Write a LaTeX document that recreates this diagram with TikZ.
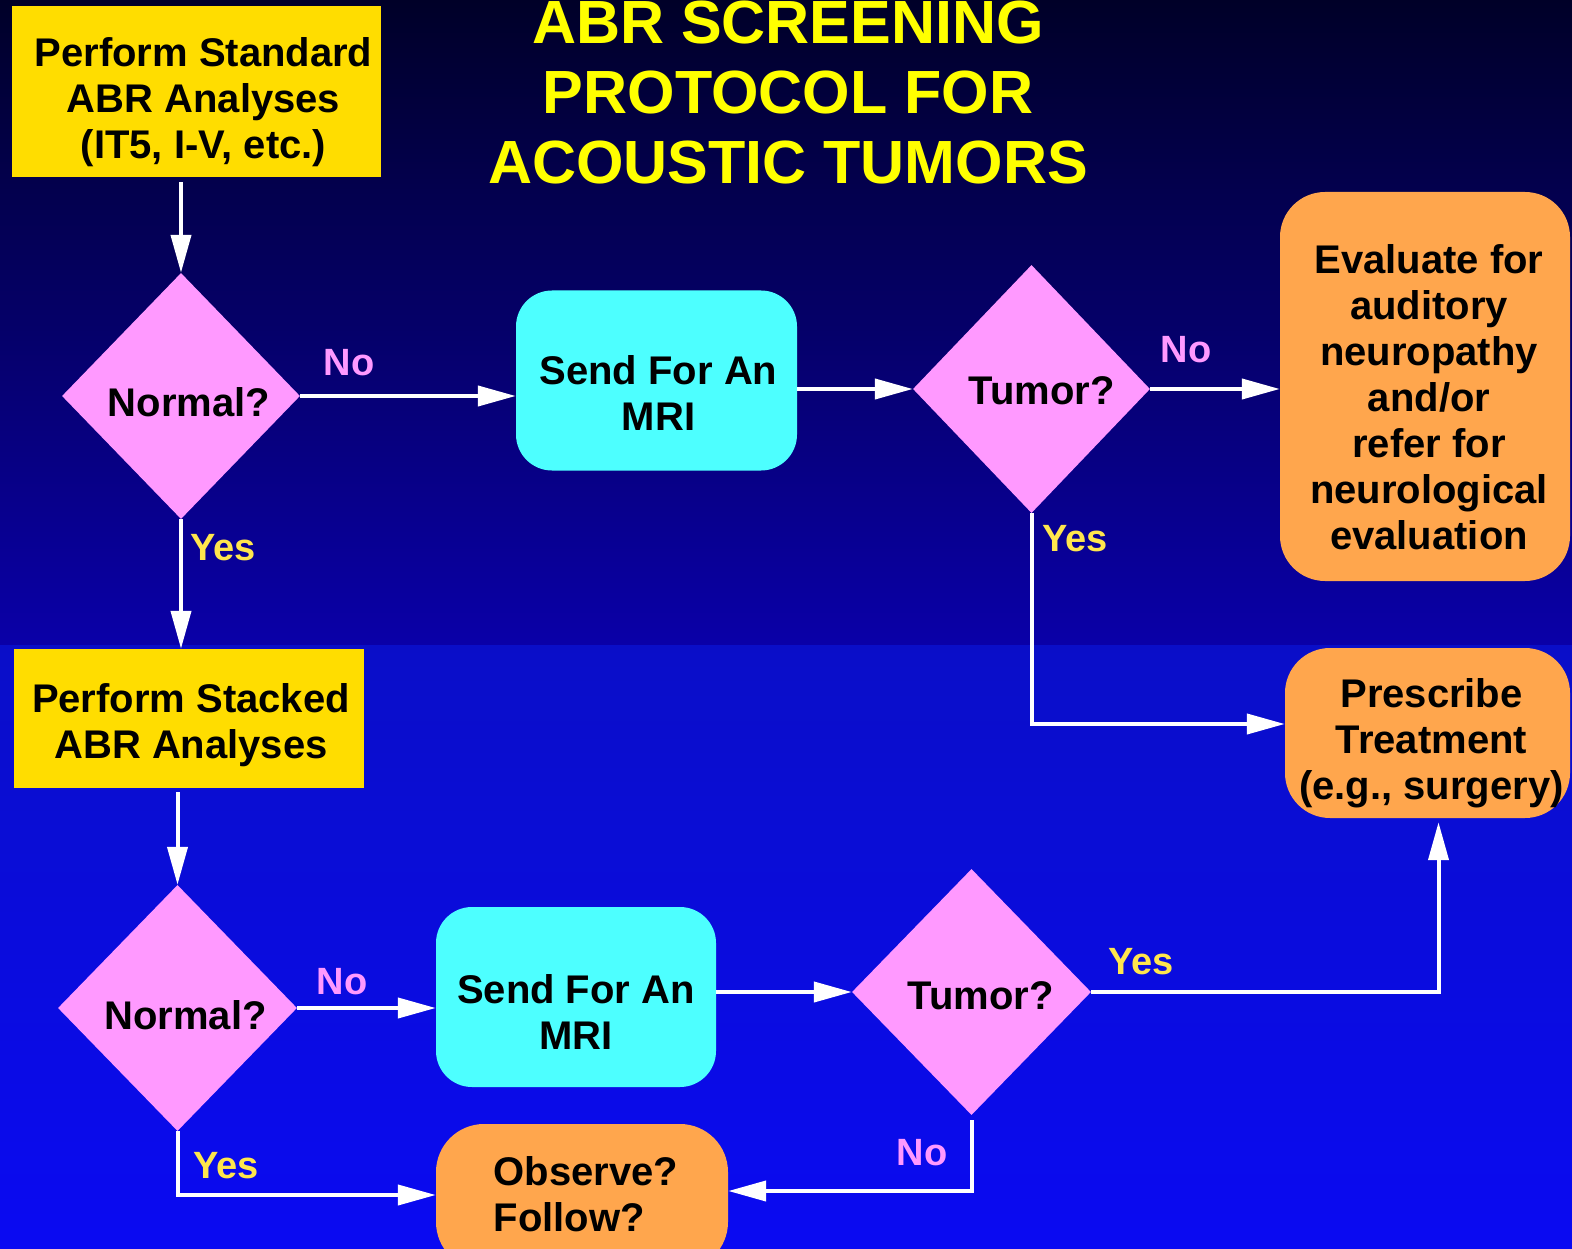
\documentclass[tikz,border=0pt]{standalone}
\usepackage{fontspec}
\setmainfont{Liberation Sans}
\usetikzlibrary{shapes.geometric,arrows.meta}
\definecolor{boxyellow}{HTML}{FFDD00}
\definecolor{dpink}{HTML}{FF99FF}
\definecolor{bcyan}{HTML}{4DFFFF}
\definecolor{borange}{HTML}{FFA64D}
\definecolor{ttlyellow}{HTML}{FFFF00}
\definecolor{yeslbl}{HTML}{FFE64D}
\definecolor{bgA}{RGB}{0,0,40}
\definecolor{bgB}{RGB}{10,0,168}
\definecolor{bgC}{RGB}{10,14,200}
\definecolor{bgD}{RGB}{10,10,242}
\begin{document}
\begin{tikzpicture}[x=1pt,y=-1pt,
 txt/.style={font=\fontsize{40}{46}\selectfont\bfseries, text=black, align=center, inner sep=0pt},
 shp/.style={inner sep=0pt, draw=none},
 ybox/.style={shp, fill=boxyellow},
 dia/.style={shp, diamond, fill=dpink, minimum width=238pt, minimum height=246pt},
 cbox/.style={shp, fill=bcyan, rounded corners=36pt, minimum width=281pt, minimum height=180pt},
 obox/.style={shp, fill=borange, rounded corners=45pt},
 arr/.style={draw=white, line width=4pt, -{Triangle[length=38pt,width=20pt]}},
 nolbl/.style={font=\fontsize{38}{44}\selectfont\bfseries, text=dpink, inner sep=0pt},
 yeslab/.style={font=\fontsize{38}{44}\selectfont\bfseries, text=yeslbl, inner sep=0pt},
]
\useasboundingbox (0,0) rectangle (1572,1249);
\shade[top color=bgA, bottom color=bgB] (0,0) rectangle (1572,645);
\shade[top color=bgC, bottom color=bgD] (0,645) rectangle (1572,1249);

\node[font=\fontsize{61}{70}\selectfont\bfseries, text=ttlyellow, align=center, inner sep=0pt] (title) at (788,93) {ABR SCREENING\\PROTOCOL FOR\\ACOUSTIC TUMORS};

% shapes
\node[ybox, minimum width=369pt, minimum height=171pt] (std) at (196.5,91.5) {};
\node[dia] (n1) at (181,396) {};
\node[cbox] (mri1) at (656.5,380.5) {};
\node[dia, minimum width=237pt, minimum height=248pt] (t1) at (1031.5,389) {};
\node[obox, minimum width=290pt, minimum height=389pt] (eval) at (1425,386.5) {};
\node[obox, minimum width=285pt, minimum height=170pt] (presc) at (1427.5,733) {};
\node[ybox, minimum width=350pt, minimum height=139pt] (stk) at (189,718.5) {};
\node[dia, minimum width=239pt] (n2) at (177.5,1008) {};
\node[cbox, minimum width=280pt] (mri2) at (576,997) {};
\node[dia, minimum width=239pt] (t2) at (971.5,992) {};
\node[obox, rounded corners=48pt, minimum width=292pt, minimum height=146pt] (obs) at (582,1197) {};

% texts
\node[txt] (std-t) at ([xshift=7pt,yshift=-11pt]std.center) {Perform Standard\\ABR Analyses\\(IT5, I-V, etc.)};
\node[txt] (n1-t) at ([xshift=8pt,yshift=-6pt]n1.center) {Normal?};
\node[txt] (mri1-t) at ([xshift=2pt,yshift=-13pt]mri1.center) {Send For An\\MRI};
\node[txt] (t1-t) at ([xshift=10pt,yshift=-2pt]t1.center) {Tumor?};
\node[txt] (eval-t) at ([xshift=4pt,yshift=-11pt]eval.center) {Evaluate for\\auditory\\neuropathy\\and/or\\refer for\\neurological\\evaluation};
\node[txt] (presc-t) at ([xshift=4pt,yshift=-10pt]presc.center) {Prescribe\\Treatment\\(e.g., surgery)};
\node[txt] (stk-t) at ([xshift=2pt,yshift=-7pt]stk.center) {Perform Stacked\\ABR Analyses};
\node[txt] (n2-t) at ([xshift=8pt,yshift=-7pt]n2.center) {Normal?};
\node[txt] (mri2-t) at ([xshift=0pt,yshift=-15pt]mri2.center) {Send For An\\MRI};
\node[txt] (t2-t) at ([xshift=9pt,yshift=-4pt]t2.center) {Tumor?};
\node[txt, align=left] (obs-t) at ([xshift=4pt,yshift=3pt]obs.center) {Observe?\\Follow?};

% labels
\node[nolbl] (lno1) at (349,363) {No};
\node[yeslab] (lyes1) at (223,548) {Yes};
\node[nolbl] (lno2) at (1186,350) {No};
\node[yeslab] (lyes2) at (1075,539) {Yes};
\node[nolbl] (lno3) at (342,982) {No};
\node[yeslab] (lyes3) at (1141,962) {Yes};
\node[nolbl] (lno4) at (922,1153) {No};
\node[yeslab] (lyes4) at (226,1166) {Yes};

% connectors
\coordinate (a1) at ([yshift=-5pt]std.south);
\draw[arr] (a1 -| n1.north) -- (n1.north);
\draw[arr] (n1.east) -- (n1.east -| mri1.west);
\draw[arr] (t1.west -| mri1.east) -- (t1.west);
\draw[arr] (t1.east) -- (t1.east -| eval.west);
\coordinate (pw) at ([yshift=9pt]presc.west);
\draw[arr] (t1.south) -- (t1.south |- pw) -- (pw);
\draw[arr] (n1.south) -- (n1.south |- stk.north);
\coordinate (a2) at ([yshift=-4pt]stk.south);
\draw[arr] (a2 -| n2.north) -- (n2.north);
\draw[arr] (n2.east) -- (n2.east -| mri2.west);
\draw[arr] (t2.west -| mri2.east) -- (t2.west);
\coordinate (pb) at ([xshift=11pt,yshift=-4pt]presc.south);
\draw[arr] (t2.east) -- (t2.east -| pb) -- (pb);
\coordinate (tb) at ([yshift=-5pt]t2.south);
\coordinate (oe) at ([yshift=6pt]obs.east);
\draw[arr] (tb) -- (tb |- oe) -- (oe);
\coordinate (ow) at ([yshift=2pt]obs.west);
\draw[arr] (n2.south) -- (n2.south |- ow) -- (ow);
\end{tikzpicture}
\end{document}
